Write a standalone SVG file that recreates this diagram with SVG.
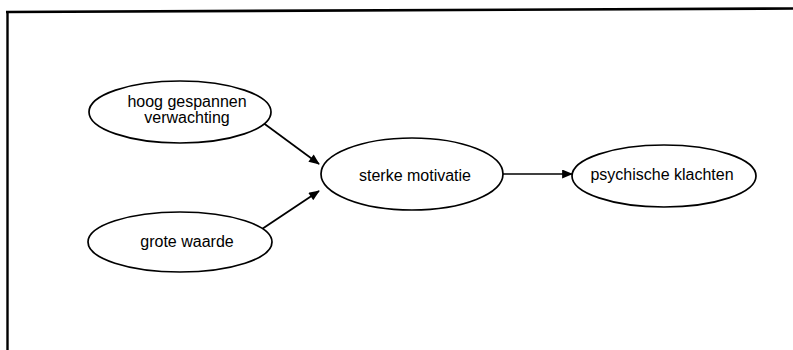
<svg xmlns="http://www.w3.org/2000/svg" width="793" height="350" viewBox="0 0 793 350">
<defs>
<style>
.node ellipse{fill:#fff;stroke:#000;stroke-width:1.7}
.node text{font-family:"Liberation Sans",Arial,sans-serif;font-size:16px;fill:#000;text-anchor:middle}
.conn line{stroke:#000;stroke-width:1.7}
.frame{stroke:#000;fill:none}
</style>
<marker id="ah" viewBox="0 0 12 10" refX="11" refY="5" markerWidth="12" markerHeight="9" markerUnits="userSpaceOnUse" orient="auto"><path d="M0,0 L12,5 L0,10 z" fill="#000"/></marker>
</defs>
<rect width="793" height="350" fill="#fff"/>
<line class="frame" x1="6" y1="12" x2="793" y2="8.5" stroke-width="2.6"/>
<line class="frame" x1="7.5" y1="11" x2="7.5" y2="350" stroke-width="2.4"/>
<g class="conn">
<line x1="262" y1="122" x2="319" y2="164" marker-end="url(#ah)"/>
<line x1="262" y1="229" x2="319" y2="191" marker-end="url(#ah)"/>
<line x1="503" y1="174" x2="572" y2="174" marker-end="url(#ah)"/>
</g>
<g id="n1" class="node">
<ellipse cx="180" cy="112" rx="91" ry="31"/>
<text x="187" y="107">hoog gespannen</text>
<text x="187" y="123">verwachting</text>
</g>
<g id="n2" class="node">
<ellipse cx="180" cy="242" rx="92" ry="30"/>
<text x="187" y="247">grote waarde</text>
</g>
<g id="n3" class="node">
<ellipse cx="412" cy="174" rx="91" ry="36"/>
<text x="415" y="181">sterke motivatie</text>
</g>
<g id="n4" class="node">
<ellipse cx="664" cy="176" rx="92" ry="31"/>
<text x="662" y="180">psychische klachten</text>
</g>
</svg>
